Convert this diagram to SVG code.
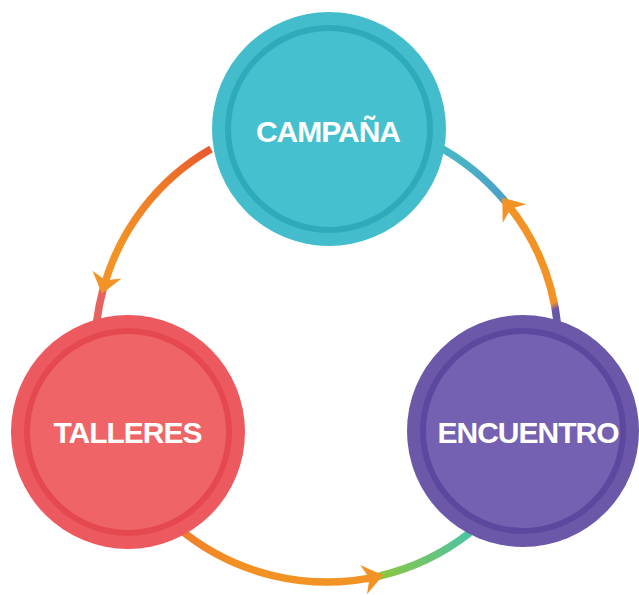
<svg xmlns="http://www.w3.org/2000/svg" width="639" height="595" viewBox="0 0 639 595">
  <style>
    .lbl { font-family: "Liberation Sans", Arial, sans-serif; font-weight: bold; font-size: 30px; letter-spacing: -1px; fill: #ffffff; text-anchor: middle; }
    .arc { fill: none; stroke-width: 7.5; stroke-linecap: butt; }
  </style>
  <defs>
    <linearGradient id="gL1" gradientUnits="userSpaceOnUse" x1="211" y1="149" x2="120" y2="250">
      <stop offset="0" stop-color="#e95a2e"/>
      <stop offset="0.45" stop-color="#ee7a28"/>
      <stop offset="1" stop-color="#f39325"/>
    </linearGradient>
    <linearGradient id="gB1" gradientUnits="userSpaceOnUse" x1="178" y1="528" x2="379" y2="576">
      <stop offset="0" stop-color="#ee7d2c"/>
      <stop offset="0.3" stop-color="#f29024"/>
      <stop offset="1" stop-color="#f39325"/>
    </linearGradient>
    <linearGradient id="gB2" gradientUnits="userSpaceOnUse" x1="379" y1="576" x2="470" y2="533">
      <stop offset="0" stop-color="#8dc63f"/>
      <stop offset="1" stop-color="#4cc3a6"/>
    </linearGradient>
    <linearGradient id="gR1" gradientUnits="userSpaceOnUse" x1="558" y1="326" x2="505" y2="201">
      <stop offset="0" stop-color="#6856a8"/>
      <stop offset="0.12" stop-color="#6856a8"/>
      <stop offset="0.17" stop-color="#f39325"/>
      <stop offset="1" stop-color="#f39325"/>
    </linearGradient>
    <linearGradient id="gR2" gradientUnits="userSpaceOnUse" x1="505" y1="201" x2="436" y2="145">
      <stop offset="0" stop-color="#4b9fc8"/>
      <stop offset="1" stop-color="#46bcc4"/>
    </linearGradient>
    <path id="arrowhead" d="M4,0 L-16,-15 L-10,0 L-16,15 Z"/>
  </defs>

  <g id="connectors">
    <!-- CAMPAÑA -> TALLERES -->
    <path class="arc" stroke="url(#gL1)" d="M211,149.1 A232,232 0 0 0 102.9,290"/>
    <path class="arc" stroke="#e6625e" d="M102.9,290 A232,232 0 0 0 96.7,321.7"/>
    <use href="#arrowhead" fill="#f39325" transform="translate(102.9,290) rotate(105)"/>
    <!-- TALLERES -> ENCUENTRO -->
    <path class="arc" stroke="url(#gB1)" d="M177.9,527.7 A232,232 0 0 0 379.2,576.1"/>
    <path class="arc" stroke="url(#gB2)" d="M379.2,576.1 A232,232 0 0 0 469.8,532.8"/>
    <use href="#arrowhead" fill="#f39325" transform="translate(379.2,576.1) rotate(-13)"/>
    <!-- ENCUENTRO -> CAMPAÑA -->
    <path class="arc" stroke="url(#gR1)" d="M557.7,325.8 A232,232 0 0 0 504.7,200.9"/>
    <path class="arc" stroke="url(#gR2)" d="M504.7,200.9 A232,232 0 0 0 435.9,145.2"/>
    <use href="#arrowhead" fill="#f39325" transform="translate(504.7,200.9) rotate(-128)"/>
  </g>

  <g id="campana">
    <circle cx="329" cy="129" r="117" fill="#43bdcb"/>
    <circle cx="329" cy="129" r="101" fill="#45c0ce" stroke="#2eabbb" stroke-width="6"/>
    <text class="lbl" x="328" y="141.5">CAMPAÑA</text>
  </g>

  <g id="talleres">
    <circle cx="128" cy="432" r="117" fill="#ec5a5f"/>
    <circle cx="128" cy="432" r="101" fill="#ef6567" stroke="#e5484f" stroke-width="6"/>
    <text class="lbl" x="127.5" y="443">TALLERES</text>
  </g>

  <g id="encuentro">
    <circle cx="523" cy="431" r="116" fill="#6c58a9"/>
    <circle cx="523" cy="431" r="100" fill="#7561b1" stroke="#5b489f" stroke-width="6"/>
    <text class="lbl" x="528" y="443">ENCUENTRO</text>
  </g>
</svg>
